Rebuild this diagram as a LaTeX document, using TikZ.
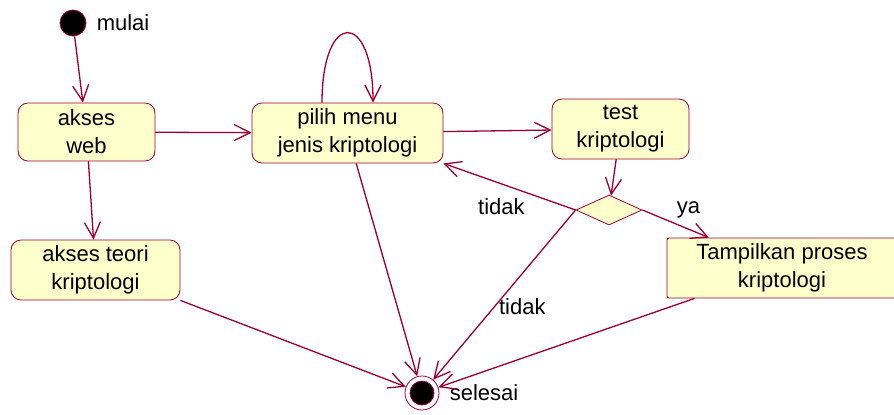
\documentclass[tikz,border=0pt]{standalone}
\usepackage{fontspec}
\setmainfont{Liberation Sans}
\usetikzlibrary{arrows.meta,positioning,calc,shapes.geometric}
\definecolor{wine}{RGB}{153,0,51}
\definecolor{cream}{RGB}{255,255,204}

\begin{document}
\begin{tikzpicture}[x=0.5pt,y=-0.5pt,
  font=\fontsize{11}{14}\selectfont,
  act/.style={draw=wine,fill=cream,rounded corners=5pt,align=center,inner sep=0pt},
  flow/.style={draw=wine,line width=0.65pt,-{Straight Barb[length=8pt,width=8pt]}},
  lbl/.style={inner sep=2pt}]
\useasboundingbox (0,0) rectangle (894,414);

\node[circle,fill=black,draw=wine,minimum size=13pt,inner sep=0pt] (start) at (73,23) {};
\node[lbl,right=3pt of start] (mulai) {mulai};

\node[act,minimum width=68.5pt,minimum height=29pt] (web) at (86.5,132) {akses\\web};
\node[act,minimum width=95.5pt,minimum height=30pt] (pilih) at (347.5,133) {pilih menu\\jenis kriptologi};
\node[act,minimum width=68.5pt,minimum height=30pt] (test) at (620.5,129) {test\\kriptologi};
\node[act,minimum width=84.5pt,minimum height=30pt] (teori) at (95.5,270) {akses teori\\kriptologi};
\node[act,rounded corners=1pt,minimum width=115pt,minimum height=30pt] (tampil) at (782,268) {Tampilkan proses\\kriptologi};
\node[diamond,draw=wine,fill=cream,aspect=2.2,inner sep=0pt,minimum width=33pt,minimum height=15pt] (dec) at (609,210) {};

\node[circle,draw=wine,fill=white,minimum size=17pt,inner sep=0pt,
  path picture={\filldraw[fill=black,draw=wine] (path picture bounding box.center) circle (6pt);}] (end) at (422,393) {};
\node[lbl,right=3pt of end] (selesai) {selesai};

\draw[flow] (start) -- (web);
\draw[flow] (web) -- (pilih);
\draw[flow] (web) -- (teori);
\draw[flow] ($(pilih.north)+(-25.5,0)$) .. controls +(0,-93) and +(0,-93) .. ($(pilih.north)+(25.5,0)$);
\draw[flow] (pilih) -- (test);
\draw[flow] (test) -- (dec);
\draw[flow] (dec.west) -- (pilih.south east) node[lbl,pos=0.35,below left] (tidaka) {tidak};
\draw[flow] (dec.east) -- (tampil) node[lbl,pos=0.45,above right] (ya) {ya};
\draw[flow] (dec.west) -- (end) node[lbl,pos=0.57,right] (tidakb) {tidak};
\draw[flow] (pilih) -- (end);
\draw[flow] (teori.south east) -- (end);
\draw[flow] (tampil) -- (end);
\end{tikzpicture}
\end{document}
